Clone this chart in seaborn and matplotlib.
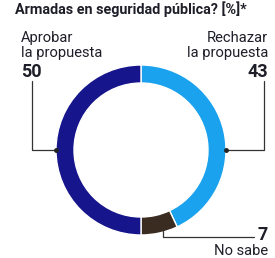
import matplotlib
matplotlib.use("Agg")
import matplotlib.pyplot as plt
import seaborn as sns

# encuesta: respuestas en %
categorias = ["Rechazar\nla propuesta", "No sabe", "Aprobar\nla propuesta"]
valores = [43, 7, 50]
colores = ["#1ba2ee", "#3b2c22", "#16158b"]
titulo = "Armadas en seguridad pública? [%]*"

sns.set_style("white")
plt.rcParams["font.family"] = ["Roboto", "DejaVu Sans"]

W, H = 275, 258
fig = plt.figure(figsize=(W / 100, H / 100), dpi=100)
ax = fig.add_axes([0, 0, 1, 1])

cx, cy, r = 141, H - 150, 85
ax.pie(valores, colors=colores, startangle=90, counterclock=False,
       center=(cx, cy), radius=r, frame=True,
       wedgeprops=dict(width=18, edgecolor="white", linewidth=1))
ax.set_xlim(0, W)
ax.set_ylim(0, H)
ax.set_aspect("equal")
ax.axis("off")

linea = dict(color="#333333", lw=0.9)
# Aprobar (izquierda)
ax.plot([32, 32, cx - r], [H - 81, cy, cy], **linea)
ax.plot([cx - r], [cy], "o", color="#222222", ms=2.5)
# Rechazar (derecha)
ax.plot([264, 264, cx + r], [H - 81, cy, cy], **linea)
ax.plot([cx + r], [cy], "o", color="#222222", ms=2.5)
# No sabe (abajo)
ax.plot([163, 163, 254], [H - 231, H - 237, H - 237], **linea)

txt = "#1e1e28"
ax.text(15, H - 14, titulo, fontsize=10.4, fontweight="bold", color=txt, va="baseline")

ax.text(21, H - 42, "Aprobar", fontsize=10.6, color=txt, va="baseline")
ax.text(21, H - 57, "la propuesta", fontsize=10.6, color=txt, va="baseline")
ax.text(21, H - 77, str(valores[2]), fontsize=13, fontweight="bold", color=txt, va="baseline")

ax.text(268, H - 42, "Rechazar", fontsize=10.6, color=txt, va="baseline", ha="right")
ax.text(268, H - 57, "la propuesta", fontsize=10.6, color=txt, va="baseline", ha="right")
ax.text(268, H - 77, str(valores[0]), fontsize=13, fontweight="bold", color=txt, va="baseline", ha="right")

ax.text(268, H - 240, str(valores[1]), fontsize=13, fontweight="bold", color=txt, va="baseline", ha="right")
ax.text(268, H - 255, "No sabe", fontsize=10.6, color=txt, va="baseline", ha="right")

fig.savefig("out.png", dpi=100)
